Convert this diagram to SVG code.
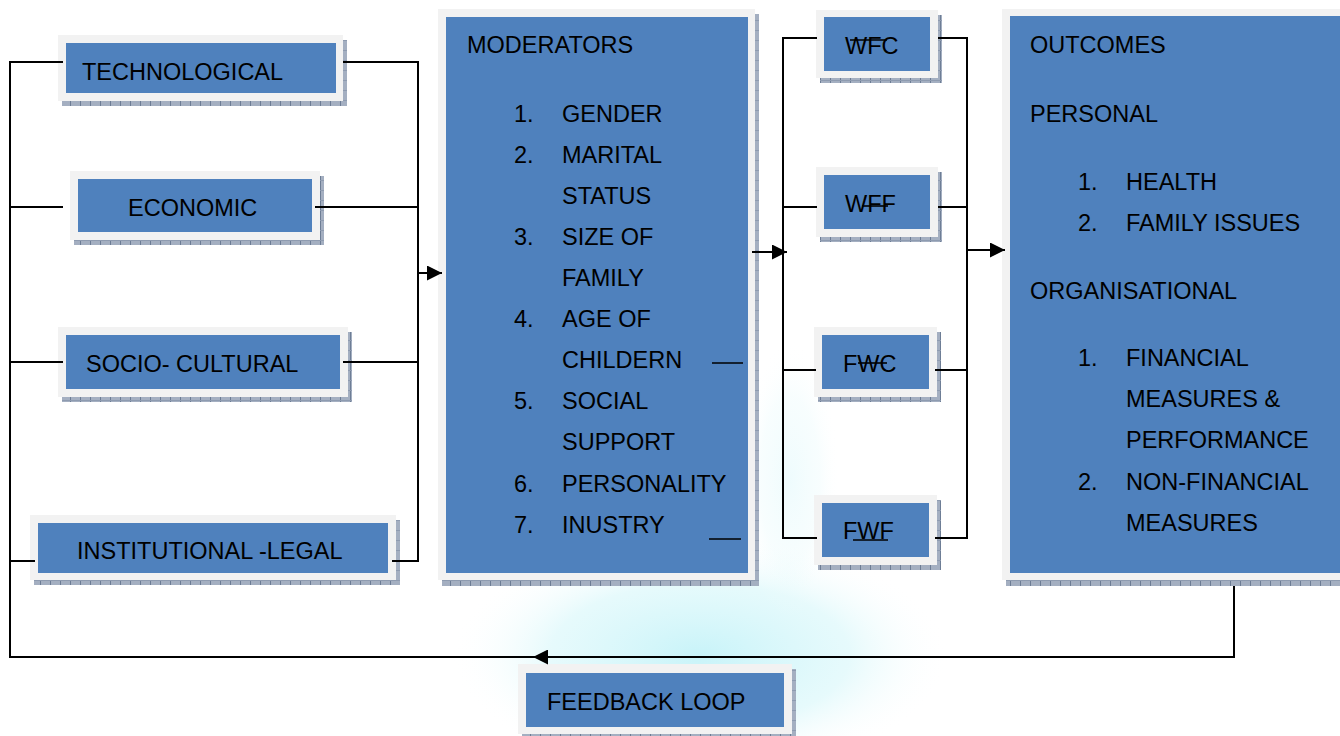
<svg xmlns="http://www.w3.org/2000/svg" width="1340" height="736" viewBox="0 0 1340 736">
<defs>
<style>
.sh{fill:url(#grid)}
.fr{fill:#f2f2f2}
.bx{fill:#4f81bd}
text{font-family:"Liberation Sans",Arial,sans-serif;font-size:23.5px;fill:#000}
.ln{stroke:#000;stroke-width:2;fill:none}
.tl{stroke:#000;stroke-width:1.6;fill:none}
</style>
<pattern id="grid" width="10" height="10" patternUnits="userSpaceOnUse">
<rect width="10" height="10" fill="#a4afc1"/>
<rect width="1" height="10" fill="#6d7d95"/>
<rect width="10" height="1" fill="#8e9bb0"/>
</pattern>
<radialGradient id="wm" cx="0.5" cy="0.5" r="0.5">
<stop offset="0" stop-color="#c2f2f8" stop-opacity="0.9"/>
<stop offset="0.6" stop-color="#d6f7fa" stop-opacity="0.6"/>
<stop offset="1" stop-color="#ffffff" stop-opacity="0"/>
</radialGradient>
<marker id="ah" viewBox="0 0 16 16" refX="16" refY="8" markerWidth="16" markerHeight="15" markerUnits="userSpaceOnUse" orient="auto">
<path d="M0,0 L16,8 L0,16 z" fill="#000"/>
</marker>
</defs>
<rect width="1340" height="736" fill="#ffffff"/>
<ellipse cx="700" cy="655" rx="250" ry="120" fill="url(#wm)"/>
<ellipse cx="790" cy="480" rx="50" ry="140" fill="url(#wm)" opacity="0.3"/>

<g id="technological">
<rect class="sh" x="62" y="40" width="285" height="66"/>
<rect class="fr" x="58" y="35" width="285" height="66"/>
<rect class="bx" x="66" y="43" width="270" height="50"/>
<text x="82" y="80">TECHNOLOGICAL</text>
</g>
<g id="economic">
<rect class="sh" x="74" y="176" width="250" height="69"/>
<rect class="fr" x="70" y="171" width="250" height="69"/>
<rect class="bx" x="78" y="179" width="234" height="53"/>
<text x="128" y="216">ECONOMIC</text>
</g>
<g id="socio-cultural">
<rect class="sh" x="62" y="332" width="290" height="70"/>
<rect class="fr" x="58" y="327" width="290" height="70"/>
<rect class="bx" x="66" y="335" width="274" height="54"/>
<text x="86" y="372">SOCIO- CULTURAL</text>
</g>
<g id="institutional-legal">
<rect class="sh" x="34" y="520" width="366" height="65"/>
<rect class="fr" x="30" y="515" width="366" height="65"/>
<rect class="bx" x="38" y="523" width="350" height="50"/>
<text x="77" y="559">INSTITUTIONAL -LEGAL</text>
</g>
<g id="moderators">
<rect class="sh" x="442" y="14" width="317" height="572"/>
<rect class="fr" x="438" y="9" width="317" height="571"/>
<rect class="bx" x="446" y="17" width="302" height="556"/>
<text x="467" y="53">MODERATORS</text>
<text x="514" y="122">1.</text><text x="562" y="122">GENDER</text>
<text x="514" y="163">2.</text><text x="562" y="163">MARITAL</text>
<text x="562" y="204">STATUS</text>
<text x="514" y="245">3.</text><text x="562" y="245">SIZE OF</text>
<text x="562" y="286">FAMILY</text>
<text x="514" y="327">4.</text><text x="562" y="327">AGE OF</text>
<text x="562" y="368">CHILDERN</text>
<text x="514" y="409">5.</text><text x="562" y="409">SOCIAL</text>
<text x="562" y="450">SUPPORT</text>
<text x="514" y="492">6.</text><text x="562" y="492">PERSONALITY</text>
<text x="514" y="533">7.</text><text x="562" y="533">INUSTRY</text>
</g>
<g id="wfc">
<rect class="sh" x="820" y="15" width="122" height="68"/>
<rect class="fr" x="816" y="10" width="122" height="68"/>
<rect class="bx" x="824" y="17" width="106" height="54"/>
<text x="845" y="54">WFC</text>
<line class="tl" x1="850" y1="40" x2="887" y2="40"/>
</g>
<g id="wff">
<rect class="sh" x="820" y="172" width="122" height="70"/>
<rect class="fr" x="816" y="167" width="122" height="70"/>
<rect class="bx" x="824" y="175" width="106" height="54"/>
<text x="845" y="212">WFF</text>
<line class="tl" x1="862" y1="206" x2="888" y2="206"/>
</g>
<g id="fwc">
<rect class="sh" x="818" y="332" width="123" height="70"/>
<rect class="fr" x="814" y="327" width="123" height="70"/>
<rect class="bx" x="822" y="335" width="107" height="54"/>
<text x="843" y="372">FWC</text>
<line class="tl" x1="858" y1="363" x2="887" y2="363"/>
</g>
<g id="fwf">
<rect class="sh" x="818" y="500" width="123" height="70"/>
<rect class="fr" x="814" y="495" width="123" height="70"/>
<rect class="bx" x="822" y="503" width="107" height="54"/>
<text x="843" y="539">FWF</text>
<line class="tl" x1="853" y1="540" x2="888" y2="540"/>
</g>
<g id="outcomes">
<rect class="sh" x="1006" y="14" width="350" height="572"/>
<rect class="fr" x="1002" y="9" width="350" height="571"/>
<rect class="bx" x="1010" y="16" width="340" height="557"/>
<text x="1030" y="53">OUTCOMES</text>
<text x="1030" y="122">PERSONAL</text>
<text x="1078" y="190">1.</text><text x="1126" y="190">HEALTH</text>
<text x="1078" y="231">2.</text><text x="1126" y="231">FAMILY ISSUES</text>
<text x="1030" y="299">ORGANISATIONAL</text>
<text x="1078" y="366">1.</text><text x="1126" y="366">FINANCIAL</text>
<text x="1126" y="407">MEASURES &amp;</text>
<text x="1126" y="448">PERFORMANCE</text>
<text x="1078" y="490">2.</text><text x="1126" y="490">NON-FINANCIAL</text>
<text x="1126" y="531">MEASURES</text>
</g>
<g id="feedback-loop">
<rect class="sh" x="522" y="669" width="274" height="70"/>
<rect class="fr" x="518" y="664" width="274" height="70"/>
<rect class="bx" x="526" y="673" width="258" height="54"/>
<text x="547" y="710">FEEDBACK LOOP</text>
</g>

<g id="connectors">
<path class="ln" d="M540,657 H10 V62 H63"/>
<path class="ln" d="M10,207 H63 M10,362 H63 M10,561 H35"/>
<path class="ln" d="M1234,586 V657 H533" marker-end="url(#ah)"/>
<path class="ln" d="M343,62 H418 V561 H392 M315,207 H418 M343,362 H418"/>
<path class="ln" d="M418,273 H442" marker-end="url(#ah)"/>
<path class="ln" d="M817,38 H783 V538 H817 M783,207 H817 M783,370 H816"/>
<path class="ln" d="M752,252 H787" marker-end="url(#ah)"/>
<path class="ln" d="M938,38 H967 V538 H935 M938,207 H967 M935,370 H967"/>
<path class="ln" d="M967,250 H1005" marker-end="url(#ah)"/>
<path class="tl" d="M712,363 H743 M709,539 H741"/>
</g>
</svg>
